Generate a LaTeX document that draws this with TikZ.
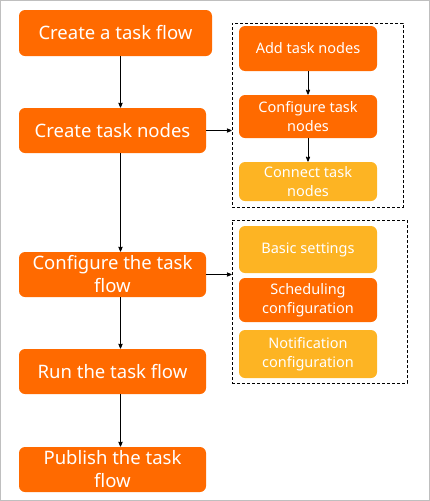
\documentclass[tikz,border=0pt]{standalone}
\usepackage{fontspec}
\setmainfont{Noto Sans}
\usetikzlibrary{arrows}
\definecolor{flowOrange}{HTML}{FF6A00}
\definecolor{flowYellow}{HTML}{FDB423}

\begin{document}
\begin{tikzpicture}[x=1pt,y=-1pt,->,>=stealth',line width=0.8pt,
  main node/.style={rectangle,rounded corners=6pt,fill=flowOrange,text=white,align=center,
    minimum width=187pt,minimum height=45pt,inner sep=0pt,font=\fontsize{18.5}{23}\selectfont},
  sub node/.style={rectangle,rounded corners=6pt,fill=flowOrange,text=white,align=center,
    minimum width=138pt,minimum height=44pt,inner sep=0pt,font=\fontsize{14.5}{19}\selectfont},
  group box/.style={rectangle,draw,dash pattern=on 3pt off 2pt,line width=0.7pt,inner sep=0pt}]
  \useasboundingbox (0,0) rectangle (430,501);
  \draw[-,gray!50,line width=1pt] (0.5,0.5) rectangle (429.5,500.5);

  \node[group box, minimum width=171pt, minimum height=184pt] (12) at (317.5,115) {};
  \node[group box, minimum width=175pt, minimum height=163pt] (13) at (319.5,301.5) {};

  \node[main node, minimum width=193pt, minimum height=46pt] (1) at (115.5,33) {Create a task flow};
  \node[main node] (2) at (112.5,130.5) {Create task nodes};
  \node[main node] (3) at (112.5,274.5) {Configure the task\\flow};
  \node[main node] (4) at (112.5,371.5) {Run the task flow};
  \node[main node] (5) at (112.5,469.5) {Publish the task\\flow};

  \node[sub node, minimum height=45pt] (6) at (308,48.5) {Add task nodes};
  \node[sub node, minimum height=43pt] (7) at (308,116.5) {Configure task\\nodes};
  \node[sub node, fill=flowYellow, minimum height=39pt] (8) at (308,181.5) {Connect task\\nodes};
  \node[sub node, fill=flowYellow, minimum height=47pt] (9) at (308,249.5) {Basic settings};
  \node[sub node] (10) at (308,300) {Scheduling\\configuration};
  \node[sub node, fill=flowYellow, minimum height=48pt] (11) at (308,354) {Notification\\configuration};

  \path
  ([xshift=8pt]2.north |- 1.south) edge ([xshift=8pt]2.north)
  ([xshift=8pt]2.south) edge ([xshift=8pt]3.north)
  ([xshift=8pt]3.south) edge ([xshift=8pt]4.north)
  ([xshift=8pt]4.south) edge ([xshift=8pt]5.north)
  (2.east) edge (2.east -| 12.west)
  (3.east) edge (3.east -| 13.west)
  (6) edge (7)
  (7) edge (8);
\end{tikzpicture}
\end{document}
